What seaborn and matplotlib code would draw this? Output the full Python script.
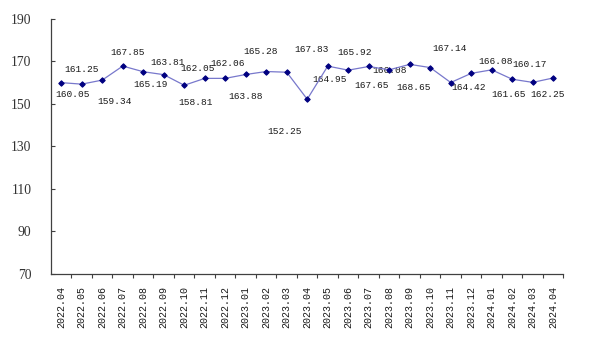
import matplotlib
matplotlib.use("Agg")
import matplotlib.pyplot as plt
from matplotlib.ticker import FixedLocator
import seaborn as sns
import pandas as pd

# Monthly index, April 2022 – April 2024
months = ["2022.04", "2022.05", "2022.06", "2022.07", "2022.08", "2022.09",
          "2022.10", "2022.11", "2022.12", "2023.01", "2023.02", "2023.03",
          "2023.04", "2023.05", "2023.06", "2023.07", "2023.08", "2023.09",
          "2023.10", "2023.11", "2023.12", "2024.01", "2024.02", "2024.03",
          "2024.04"]
values = [160.05, 159.34, 161.25, 167.85, 165.19, 163.81, 158.81, 162.05,
          162.06, 163.88, 165.28, 164.95, 152.25, 167.83, 165.92, 167.65,
          166.08, 168.65, 167.14, 160.10, 164.42, 166.08, 161.65, 160.17,
          162.25]
# months whose value is written on the chart
labelled = [True] * len(months)
labelled[19] = False

y_ticks = [70, 90, 110, 130, 150, 170, 190]

# label placement relative to each marker, in pixels (right, down)
label_shift = [(11, 12), (33, 17), (-21, -11), (5, -14), (7, 13), (4, -12),
               (11, 17), (-7, -10), (2, -15), (0, 22), (-6, -20), (43, 7),
               (-23, 32), (-16, -17), (6, -18), (3, 19), (0, 1), (4, 23),
               (19, -19), (0, 0), (-3, 14), (4, -8), (-4, 15), (-3, -18),
               (-6, 17)]

df = pd.DataFrame({"month": months, "value": values})
df["pos"] = range(len(df))

sns.set_style("white")
fig = plt.figure(figsize=(5.95, 3.41), dpi=100)
ax = fig.add_axes([0.0857, 0.1965, 0.8613, 0.7478])

sns.lineplot(data=df, x="pos", y="value", ax=ax, color="#7878CC",
             linewidth=0.9, marker="D", markersize=2.8,
             markerfacecolor="#000080", markeredgecolor="#000080",
             zorder=3)

for i, (v, show) in enumerate(zip(values, labelled)):
    if not show:
        continue
    dx, dy = label_shift[i]
    ax.annotate(f"{v:.2f}", xy=(i, v), xytext=(dx, -dy),
                textcoords="offset pixels", ha="center", va="center",
                fontsize=6.8, family="Liberation Mono", color="#1a1a1a",
                zorder=2)

ax.set_xlim(-0.5, len(months) - 0.5)
ax.set_ylim(70, 190)
ax.set_xticks(range(len(months)))
ax.set_xticklabels(months, rotation=90, family="Liberation Mono",
                   fontsize=7.2, color="#1a1a1a")
ax.xaxis.set_minor_locator(FixedLocator([i + 0.5 for i in range(len(months))]))
ax.tick_params(axis="x", which="major", length=0, pad=9)
ax.tick_params(axis="x", which="minor", length=3, width=0.8,
               direction="out", color="#404040", bottom=True)

ax.set_yticks(y_ticks)
ax.set_yticklabels([str(t) for t in y_ticks], family="Liberation Serif",
                   fontsize=9.8, color="#333333")
ax.tick_params(axis="y", which="major", length=3, width=0.8,
               direction="in", color="#404040", pad=14, left=True)

ax.set_xlabel("")
ax.set_ylabel("")
for side in ("top", "right"):
    ax.spines[side].set_visible(False)
for side in ("left", "bottom"):
    ax.spines[side].set_color("#404040")
    ax.spines[side].set_linewidth(0.9)
ax.grid(False)

fig.savefig("out.png", dpi=100)
